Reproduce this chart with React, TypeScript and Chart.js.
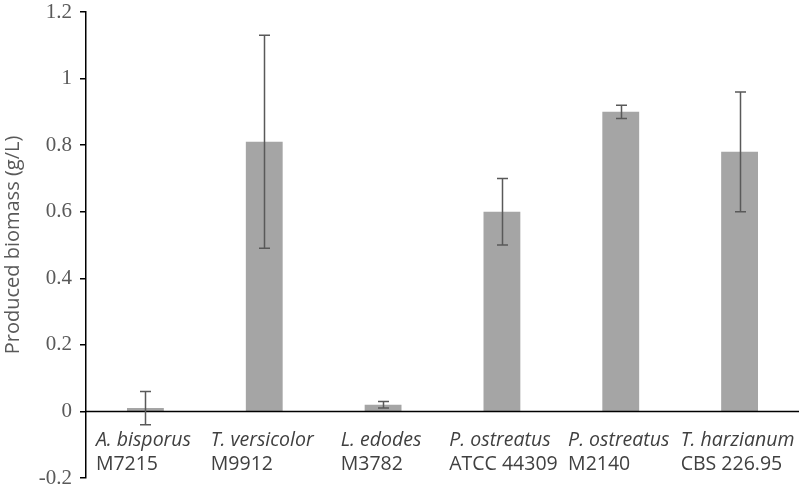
import React, { useEffect, useRef } from "react";
import { Chart, registerables } from "chart.js";

Chart.register(...registerables);

const species = ["A. bisporus", "T. versicolor", "L. edodes", "P. ostreatus", "P. ostreatus", "T. harzianum"];
const strains = ["M7215", "M9912", "M3782", "ATCC 44309", "M2140", "CBS 226.95"];
const biomass = [0.01, 0.81, 0.02, 0.6, 0.9, 0.78];
const errors = [0.05, 0.32, 0.01, 0.1, 0.02, 0.18];
const yMin = -0.2;
const yMax = 1.2;
const yStep = 0.2;

const overlay = {
  id: "overlay",
  afterDatasetsDraw(chart: any) {
    const { ctx, chartArea, scales } = chart;
    const x = scales.x;
    const y = scales.y;
    ctx.save();
    // zero line
    const y0 = Math.round(y.getPixelForValue(0)) + 0.5;
    ctx.strokeStyle = "#000000";
    ctx.lineWidth = 1.5;
    ctx.beginPath();
    ctx.moveTo(chartArea.left, y0);
    ctx.lineTo(chartArea.right, y0);
    ctx.stroke();
    // error bars
    ctx.strokeStyle = "#595959";
    ctx.lineWidth = 1.5;
    biomass.forEach((v, i) => {
      const cx = Math.round(x.getPixelForValue(i)) + 0.5;
      const top = y.getPixelForValue(v + errors[i]);
      const bot = y.getPixelForValue(v - errors[i]);
      ctx.beginPath();
      ctx.moveTo(cx, top);
      ctx.lineTo(cx, bot);
      ctx.moveTo(cx - 5.5, top);
      ctx.lineTo(cx + 5.5, top);
      ctx.moveTo(cx - 5.5, bot);
      ctx.lineTo(cx + 5.5, bot);
      ctx.stroke();
    });
    // category labels
    ctx.fillStyle = "#404040";
    ctx.textBaseline = "alphabetic";
    ctx.textAlign = "left";
    species.forEach((s, i) => {
      const cx = x.getPixelForValue(i);
      ctx.font = "italic 19.5px 'Open Sans'";
      const w = ctx.measureText(s).width;
      const left = cx - w / 2 - 2;
      ctx.fillText(s, left, 446);
      ctx.font = "19.5px 'Open Sans'";
      ctx.fillText(strains[i], left, 470);
    });
    ctx.restore();
  },
};

export default function App() {
  const ref = useRef<HTMLCanvasElement>(null);
  useEffect(() => {
    if (!ref.current) return;
    const chart = new Chart(ref.current, {
      type: "bar",
      data: {
        labels: species.map((s, i) => s + " " + strains[i]),
        datasets: [
          {
            data: biomass,
            backgroundColor: "#A5A5A5",
            borderWidth: 0,
            barPercentage: 0.31,
            categoryPercentage: 1,
          },
        ],
      },
      options: {
        animation: false,
        responsive: true,
        maintainAspectRatio: false,
        layout: { padding: { top: 12, bottom: 14, left: 0, right: 0 } },
        plugins: { legend: { display: false }, tooltip: { enabled: false } },
        scales: {
          x: { display: false },
          y: {
            min: yMin,
            max: yMax,
            afterFit: (s: any) => {
              s.width = 86;
              s.paddingTop = 0;
              s.paddingBottom = 0;
            },
            ticks: {
              stepSize: yStep,
              padding: 8,
              color: "#595959",
              font: { family: "'Liberation Serif'", size: 21 },
              callback: (v: any) => String(Number(Number(v).toFixed(1))),
            },
            grid: { drawOnChartArea: false, drawTicks: true, tickLength: 6, color: "#000000", lineWidth: 1.5 },
            border: { display: true, color: "#000000", width: 1.5 },
            title: {
              display: true,
              text: "Produced biomass (g/L)",
              color: "#595959",
              font: { family: "'Open Sans'", size: 20 },
              padding: { top: 1, bottom: 0 },
            },
          },
        },
      },
      plugins: [overlay],
    });
    return () => chart.destroy();
  }, []);
  return (
    <div style={{ position: "fixed", left: 0, top: 0, width: 799, height: 492, background: "#fff" }}>
      <canvas ref={ref} />
    </div>
  );
}
